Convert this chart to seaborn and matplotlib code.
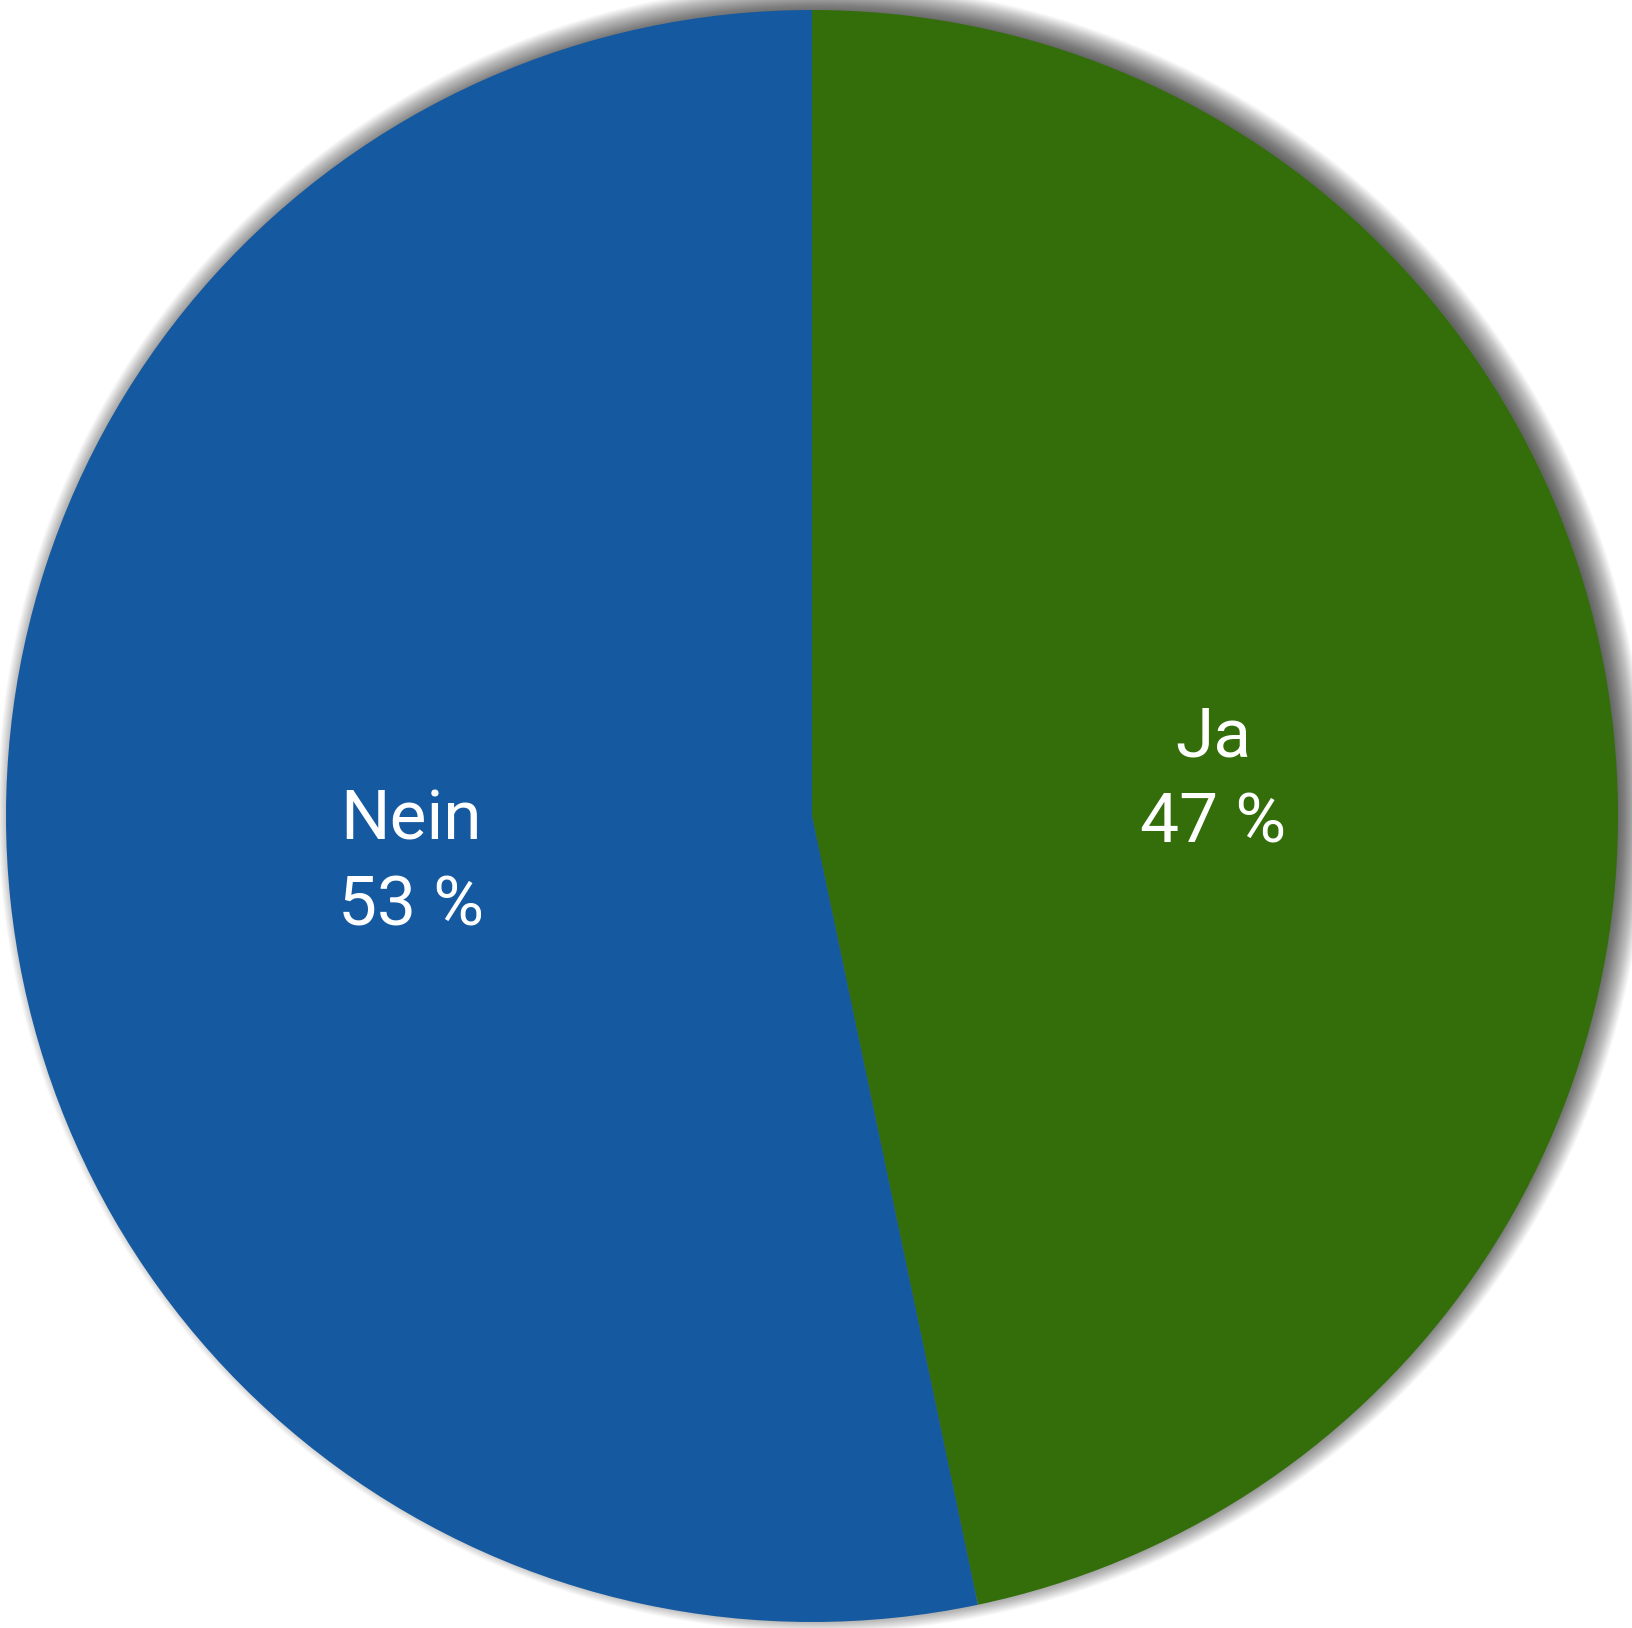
import seaborn as sns
import matplotlib.pyplot as plt
from matplotlib.patches import Circle
import numpy as np

# Daten
categories = ["Ja", "Nein"]
values = [46.7, 53.3]
colors = ["#336e0b", "#1559a0"]

sns.set_style("white")
plt.rcParams['font.family'] = ['Roboto', 'DejaVu Sans']

W, H = 1633, 1628
fig = plt.figure(figsize=(W / 100, H / 100), dpi=100)
ax = fig.add_axes([0, 0, 1, 1])

# Kreis in Pixeln: Mitte (812, 816 von oben), Radius 806
cx, cy, R = 812, 816, 806
ax.axis('off')

# weicher Schatten, nach oben rechts versetzt
px = 1 / R
n = 50
for k in range(n):
    r = 1 + (k - 18) * px * 0.6
    ax.add_patch(Circle((10 * px, 8 * px), r, color="black", alpha=0.016, lw=0, zorder=0))

def fmt(pct):
    i = int(np.argmin([abs(v / sum(values) * 100 - pct) for v in values]))
    return f"{categories[i]}\n{pct:.0f} %"

wedges, texts, autotexts = ax.pie(
    values, colors=colors, startangle=90, counterclock=False,
    autopct=fmt, pctdistance=0.5, radius=1,
    wedgeprops=dict(linewidth=0), frame=False,
)
for w in wedges:
    w.set_zorder(2)
for t in autotexts:
    t.set_color("white")
    t.set_fontsize(50)
    t.set_linespacing(1.38)
    t.set_zorder(3)
    x, y = t.get_position()
    t.set_position((x, y - 6 * px))

ax.set_xlim(-cx / R, (W - cx) / R)
ax.set_ylim(-(H - cy) / R, cy / R)
ax.set_aspect('auto')

plt.savefig("out.png", dpi=100)
